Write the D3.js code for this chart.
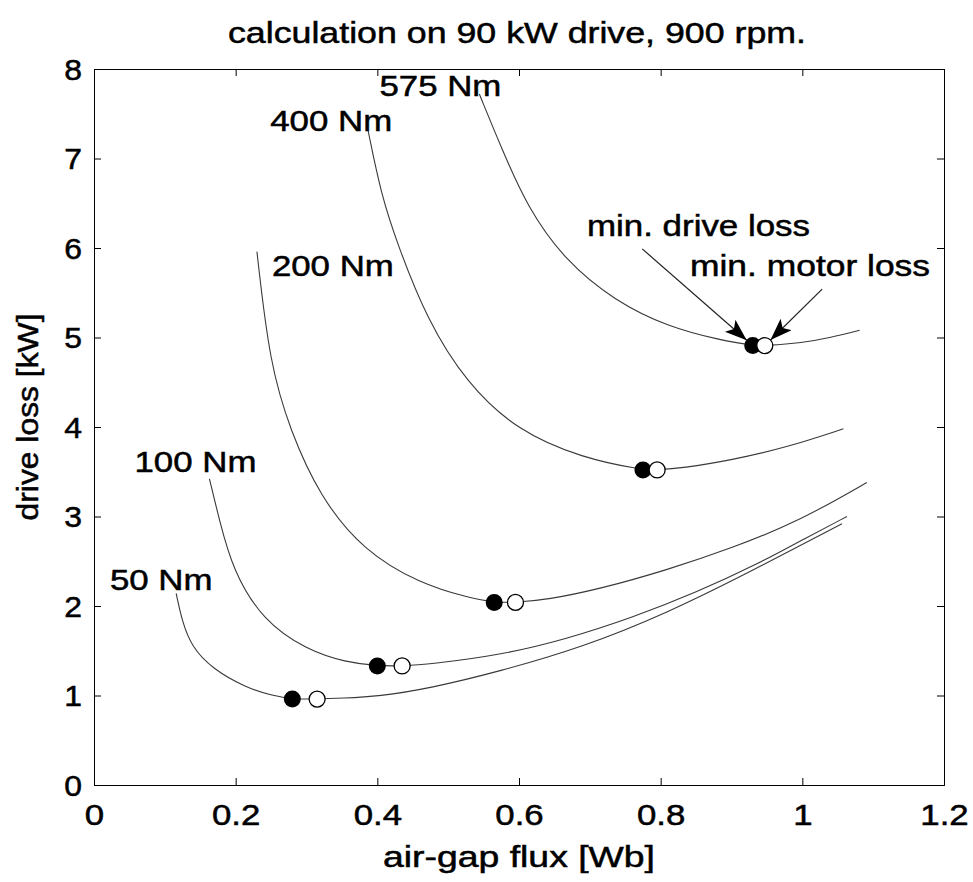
<!DOCTYPE html>
<html lang="en">
<head>
<meta charset="UTF-8">
<title>calculation on 90 kW drive, 900 rpm.</title>
<script src="https://d3js.org/d3.v7.min.js"></script>
<style>
    body { margin: 0; background: #fff; }
    text { font-family: "Liberation Sans", Arial, sans-serif; fill: #000; stroke: #000; stroke-width: 0.5px; }
    .curve { fill: none; stroke: #3a3a3a; stroke-width: 1.1px; }
    .axis path, .axis line { stroke: #000; stroke-width: 1px; }
</style>
</head>
<body>
<script>
    // torque levels and the loss curves (flux [Wb], loss [kW])
    var torques = ["50 Nm", "100 Nm", "200 Nm", "400 Nm", "575 Nm"];

    var curve50 = [[0.116,2.14],[0.124,1.84],[0.138,1.54],[0.167,1.30],[0.214,1.09],[0.251,1.00],
        [0.28,0.96],[0.315,0.96],[0.35,0.97],[0.402,0.99],[0.474,1.08],[0.573,1.27],[0.69,1.54],
        [0.809,1.92],[0.926,2.38],[1.056,2.92]];
    var curve100 = [[0.163,3.42],[0.177,2.96],[0.196,2.40],[0.238,1.84],[0.30,1.51],[0.356,1.37],
        [0.40,1.33],[0.435,1.33],[0.474,1.35],[0.573,1.45],[0.667,1.63],[0.76,1.87],[0.85,2.15],
        [0.94,2.48],[1.0,2.74],[1.063,3.0]];
    var curve200 = [[0.23,5.96],[0.248,4.71],[0.277,3.96],[0.319,3.22],[0.38,2.62],[0.46,2.25],
        [0.53,2.09],[0.565,2.04],[0.595,2.04],[0.64,2.07],[0.714,2.19],[0.808,2.40],[0.902,2.65],
        [0.996,2.95],[1.091,3.38]];
    var curve400 = [[0.387,7.31],[0.405,6.61],[0.428,6.05],[0.47,5.20],[0.526,4.49],[0.597,3.96],
        [0.69,3.65],[0.775,3.52],[0.795,3.52],[0.83,3.54],[0.90,3.63],[0.977,3.77],[1.058,3.98]];
    var curve575 = [[0.544,7.72],[0.575,7.12],[0.612,6.45],[0.665,5.86],[0.735,5.41],[0.81,5.12],
        [0.885,4.97],[0.93,4.91],[0.947,4.91],[1.0,4.94],[1.04,5.00],[1.081,5.08]];
    var curves = [curve50, curve100, curve200, curve400, curve575];

    // minimum points: filled = min. drive loss, open = min. motor loss
    var minDriveFlux = [0.28, 0.40, 0.565, 0.775, 0.93];
    var minMotorFlux = [0.315, 0.435, 0.595, 0.795, 0.947];
    var minLoss = [0.96, 1.33, 2.04, 3.52, 4.91];

    var xTicks = [0, 0.2, 0.4, 0.6, 0.8, 1, 1.2];
    var yTicks = [0, 1, 2, 3, 4, 5, 6, 7, 8];

    // label placement relative to the first point of each curve (pixels)
    var labelOffset = [
        {dx: -15, dy: -3, anchor: "middle"},
        {dx: -14, dy: -7, anchor: "middle"},
        {dx: 15, dy: 24, anchor: "start"},
        {dx: 24, dy: 0, anchor: "end"},
        {dx: 22, dy: 2, anchor: "end"}
    ];

    var W = 973, H = 882;
    var x = d3.scaleLinear().domain([0, 1.2]).range([94, 944]);
    var y = d3.scaleLinear().domain([0, 8]).range([785, 69]);

    var svg = d3.select("body").append("svg")
        .attr("width", W)
        .attr("height", H);

    var defs = svg.append("defs");
    defs.append("marker")
        .attr("id", "head")
        .attr("markerUnits", "userSpaceOnUse")
        .attr("markerWidth", 26)
        .attr("markerHeight", 18)
        .attr("refX", 22)
        .attr("refY", 8)
        .attr("orient", "auto")
        .append("path")
        .attr("d", "M0,0 L22,8 L0,16 L5,8 Z")
        .attr("fill", "#000");

    // stretch text horizontally, the original lettering is wider than Arial
    function stretch(sel, k) {
        sel.each(function() {
            var w = this.getComputedTextLength();
            d3.select(this).attr("textLength", w * k).attr("lengthAdjust", "spacingAndGlyphs");
        });
    }

    // axes with inward ticks on all four sides
    var gx = svg.append("g").attr("class", "axis")
        .attr("transform", "translate(0," + y(0) + ")")
        .call(d3.axisBottom(x).tickValues(xTicks).tickSize(-7).tickPadding(19).tickFormat(d3.format("~g")));
    svg.append("g").attr("class", "axis")
        .attr("transform", "translate(0," + y(8) + ")")
        .call(d3.axisTop(x).tickValues(xTicks).tickSize(-7).tickFormat(""));
    var gy = svg.append("g").attr("class", "axis")
        .attr("transform", "translate(" + x(0) + ",0)")
        .call(d3.axisLeft(y).tickValues(yTicks).tickSize(-7).tickPadding(12).tickFormat(d3.format("d")));
    svg.append("g").attr("class", "axis")
        .attr("transform", "translate(" + x(1.2) + ",0)")
        .call(d3.axisRight(y).tickValues(yTicks).tickSize(-7).tickFormat(""));

    svg.selectAll(".axis .domain").attr("stroke-width", 1.5);
    gx.selectAll("text").style("font-size", "29px").attr("dy", "0.71em");
    gy.selectAll("text").style("font-size", "29px").attr("dy", "0.36em");
    stretch(gx.selectAll("text"), 1.2);
    stretch(gy.selectAll("text"), 1.1);

    // loss curves
    var line = d3.line()
        .x(function(d) { return x(d[0]); })
        .y(function(d) { return y(d[1]); })
        .curve(d3.curveBasis);

    svg.selectAll(".curve")
        .data(curves)
        .enter().append("path")
        .attr("class", "curve")
        .attr("d", line);

    // torque labels next to the start of each curve
    var tl = svg.selectAll(".tlabel")
        .data(torques)
        .enter().append("text")
        .attr("class", "tlabel")
        .style("font-size", "29px")
        .attr("x", function(d, i) { return x(curves[i][0][0]) + labelOffset[i].dx; })
        .attr("y", function(d, i) { return y(curves[i][0][1]) + labelOffset[i].dy; })
        .attr("text-anchor", function(d, i) { return labelOffset[i].anchor; })
        .text(function(d) { return d; });
    stretch(tl, 1.2);

    // minimum markers
    svg.selectAll(".mdrive")
        .data(minLoss)
        .enter().append("circle")
        .attr("class", "mdrive")
        .attr("cx", function(d, i) { return x(minDriveFlux[i]); })
        .attr("cy", function(d) { return y(d); })
        .attr("r", 8.5)
        .attr("fill", "#000");
    svg.selectAll(".mmotor")
        .data(minLoss)
        .enter().append("circle")
        .attr("class", "mmotor")
        .attr("cx", function(d, i) { return x(minMotorFlux[i]); })
        .attr("cy", function(d) { return y(d); })
        .attr("r", 8)
        .attr("fill", "#fff")
        .attr("stroke", "#000")
        .attr("stroke-width", 1.3);

    // annotation arrows on the 575 Nm curve
    function arrow(fromFlux, fromLoss, toFlux, toLoss) {
        var x0 = x(fromFlux), y0 = y(fromLoss), x1 = x(toFlux), y1 = y(toLoss);
        var dx = x0 - x1, dy = y0 - y1, len = Math.sqrt(dx * dx + dy * dy);
        svg.append("line")
            .attr("x1", x0).attr("y1", y0)
            .attr("x2", x1 + dx / len * 8).attr("y2", y1 + dy / len * 8)
            .attr("stroke", "#222")
            .attr("stroke-width", 1.2)
            .attr("marker-end", "url(#head)");
    }
    arrow(0.774, 5.99, minDriveFlux[4], minLoss[4]);
    arrow(1.028, 5.54, minMotorFlux[4], minLoss[4]);

    var ann = svg.append("g").style("font-size", "29px");
    ann.append("text").attr("x", 587).attr("y", 236)
        .attr("textLength", 223).attr("lengthAdjust", "spacingAndGlyphs")
        .text("min. drive loss");
    ann.append("text").attr("x", 690).attr("y", 276)
        .attr("textLength", 240).attr("lengthAdjust", "spacingAndGlyphs")
        .text("min. motor loss");

    // title and axis titles
    svg.append("text")
        .attr("x", 517).attr("y", 43)
        .attr("text-anchor", "middle")
        .style("font-size", "30px")
        .attr("textLength", 578).attr("lengthAdjust", "spacingAndGlyphs")
        .text("calculation on 90 kW drive, 900 rpm.");

    svg.append("text")
        .attr("x", 519).attr("y", 867)
        .attr("text-anchor", "middle")
        .style("font-size", "29px")
        .attr("textLength", 272).attr("lengthAdjust", "spacingAndGlyphs")
        .text("air-gap flux [Wb]");

    svg.append("text")
        .attr("transform", "translate(38,417) rotate(-90)")
        .attr("text-anchor", "middle")
        .style("font-size", "29px")
        .attr("textLength", 207).attr("lengthAdjust", "spacingAndGlyphs")
        .text("drive loss [kW]");
</script>
</body>
</html>
